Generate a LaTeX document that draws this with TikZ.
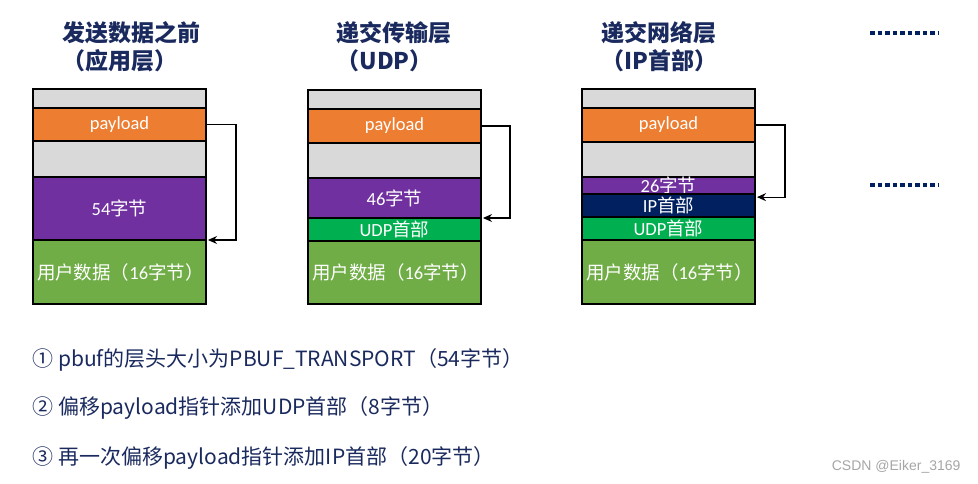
\documentclass[tikz,border=0pt]{standalone}
\usepackage{fontspec}
\usepackage{xcolor}
\usetikzlibrary{arrows.meta,positioning}
\setmainfont{Carlito}
\newfontfamily\cjk{Noto Sans CJK SC}
\newfontfamily\marksans{Liberation Sans}
\definecolor{cellgray}{HTML}{D9D9D9}
\definecolor{payorange}{HTML}{ED7D31}
\definecolor{lenpurple}{HTML}{7030A0}
\definecolor{datagreen}{HTML}{70AD47}
\definecolor{udpgreen}{HTML}{00B050}
\definecolor{ipnavy}{HTML}{002060}
\definecolor{titlenavy}{HTML}{1A2A5E}

\begin{document}
\begin{tikzpicture}[
    x=1pt, y=-1pt,
    >={Stealth[length=9pt,width=8pt]},
    node distance = 0pt,
    cell/.style = {draw=black, line width=1.8pt, minimum width=173pt,
      inner sep=0pt, outer sep=0pt, text=white,
      font=\fontsize{18.5}{21}\selectfont},
    datacell/.style = {cell, fill=datagreen, text width=165pt, inner xsep=4pt, align=left},
    layertitle/.style = {anchor=west, align=left, text=titlenavy,
      font=\cjk\bfseries\fontsize{23}{28}\selectfont},
    steptext/.style = {anchor=west, text=titlenavy,
      font=\cjk\fontsize{21}{24}\selectfont},
    jump/.style = {->, line width=1.1pt, shorten >=2pt},
    dots/.style = {ipnavy, line width=4pt, dash pattern=on 4.5pt off 3pt}
  ]
  \useasboundingbox (0,0) rectangle (978,484);

  % titles
  \node[layertitle] (t1) at (59,47) {发送数据之前\\（应用层）};
  \node[layertitle] (t2) at (333,47) {递交传输层\\（UDP）};
  \node[layertitle] (t3) at (598,47) {递交网络层\\（IP首部）};

  % before sending
  \node[cell, fill=cellgray, minimum height=19pt, anchor=north west] (s1top) at (33,89) {};
  \node[cell, fill=payorange, minimum height=33pt, below=of s1top] (s1pay) {payload};
  \node[cell, fill=cellgray, minimum height=36pt, below=of s1pay] (s1gap) {};
  \node[cell, fill=lenpurple, minimum height=63pt, below=of s1gap] (s1len) {54{\cjk 字节}};
  \node[datacell, minimum height=64pt, below=of s1len] (s1data) {{\cjk 用户数据（}16{\cjk 字节）}};

  % UDP
  \node[cell, fill=cellgray, minimum height=19pt, anchor=north west] (s2top) at (308,90) {};
  \node[cell, fill=payorange, minimum height=34pt, below=of s2top] (s2pay) {payload};
  \node[cell, fill=cellgray, minimum height=35pt, below=of s2pay] (s2gap) {};
  \node[cell, fill=lenpurple, minimum height=40pt, below=of s2gap] (s2len) {46{\cjk 字节}};
  \node[cell, fill=udpgreen, minimum height=23pt, below=of s2len] (s2udp) {UDP{\cjk 首部}};
  \node[datacell, minimum height=63pt, below=of s2udp] (s2data) {{\cjk 用户数据（}16{\cjk 字节）}};

  % IP
  \node[cell, fill=cellgray, minimum height=19pt, anchor=north west] (s3top) at (582,89) {};
  \node[cell, fill=payorange, minimum height=34pt, below=of s3top] (s3pay) {payload};
  \node[cell, fill=cellgray, minimum height=35pt, below=of s3pay] (s3gap) {};
  \node[cell, fill=lenpurple, minimum height=17pt, below=of s3gap] (s3len) {26{\cjk 字节}};
  \node[cell, fill=ipnavy, minimum height=23pt, below=of s3len] (s3ip) {IP{\cjk 首部}};
  \node[cell, fill=udpgreen, minimum height=23pt, below=of s3ip] (s3udp) {UDP{\cjk 首部}};
  \node[datacell, minimum height=64pt, below=of s3udp] (s3data) {{\cjk 用户数据（}16{\cjk 字节）}};

  % payload moves
  \draw[jump] (s1pay.east) -- ++(30,0) |- (s1data.north east);
  \draw[jump] (s2pay.east) -- ++(29,0) |- (s2udp.north east);
  \draw[jump] (s3pay.east) -- ++(30,0) |- ([yshift=-3pt]s3ip.north east);

  % more layers
  \coordinate (m1a) at (870,33);
  \coordinate (m1b) at (938,33);
  \coordinate (m2a) at (870,185);
  \coordinate (m2b) at (938,185);
  \draw[dots] (m1a) -- (m1b);
  \draw[dots] (m2a) -- (m2b);

  % steps
  \node[steptext] (n1) at (29,360) {① pbuf的层头大小为PBUF\_TRANSPORT（54字节）};
  \node[steptext] (n2) at (29,408) {② 偏移payload指针添加UDP首部（8字节）};
  \node[steptext] (n3) at (29,458) {③ 再一次偏移payload指针添加IP首部（20字节）};

  \node[anchor=east, text=gray!70, font=\marksans\fontsize{14}{16}\selectfont] (mark) at (964,467) {CSDN @Eiker\_3169};
\end{tikzpicture}
\end{document}
